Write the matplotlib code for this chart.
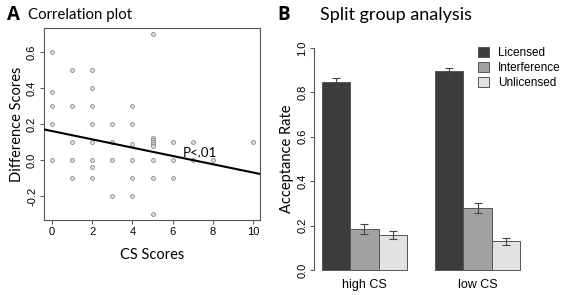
import numpy as np
import matplotlib
matplotlib.use("Agg")
import matplotlib.pyplot as plt

# panel A: CS scores vs difference scores
cs_scores = [0, 0, 0, 0, 0,
             1, 1, 1, 1, 1,
             2, 2, 2, 2, 2, 2, 2, 2,
             3, 3, 3, 3,
             4, 4, 4, 4, 4, 4,
             5, 5, 5, 5, 5, 5, 5, 5, 5,
             6, 6, 6,
             7, 7,
             8,
             10]
diff_scores = [0.6, 0.38, 0.3, 0.2, 0.0,
               0.5, 0.3, 0.1, 0.0, -0.1,
               0.5, 0.4, 0.3, 0.2, 0.1, 0.0, -0.04, -0.1,
               0.2, 0.1, 0.0, -0.2,
               0.3, 0.2, 0.09, 0.0, -0.1, -0.2,
               0.7, 0.12, 0.11, 0.1, 0.09, 0.08, 0.0, -0.1, -0.3,
               0.1, 0.0, -0.1,
               0.1, 0.0,
               0.0,
               0.1]
fit_intercept = 0.161
fit_slope = -0.023

# panel B: split group analysis
groups = ["high CS", "low CS"]
conditions = ["Licensed", "Interference", "Unlicensed"]
rates = {"Licensed": [0.845, 0.895],
         "Interference": [0.184, 0.279],
         "Unlicensed": [0.158, 0.129]}
errors = {"Licensed": [0.02, 0.015],
          "Interference": [0.022, 0.024],
          "Unlicensed": [0.019, 0.017]}
colors = {"Licensed": "#3c3c3c", "Interference": "#a2a2a2", "Unlicensed": "#e1e3e3"}

label_font = "Lato"
tick_font = "Liberation Sans"

fig = plt.figure(figsize=(5.67, 2.95), dpi=100)

# ---- A ----
ax1 = fig.add_axes([0.0776, 0.254, 0.381, 0.651])
ax1.plot(cs_scores, diff_scores, "o", ms=2.8, mfc="#e0e0e0", mec="#858585", mew=0.6, zorder=2)
xl = np.array([-0.4, 10.35])
ax1.plot(xl, fit_intercept + fit_slope * xl, color="black", lw=1.5, zorder=3)
ax1.text(6.5, 0.04, "P<.01", fontsize=9.5, family=label_font, va="center", ha="left")
ax1.set_xlim(-0.4, 10.35)
ax1.set_ylim(-0.333, 0.733)
ax1.set_xticks([0, 2, 4, 6, 8, 10])
ax1.set_yticks([-0.2, 0.0, 0.2, 0.4, 0.6])
ax1.set_yticklabels(["-0.2", "0.0", "0.2", "0.4", "0.6"], rotation=90, va="center")
for s in ax1.spines.values():
    s.set_color("#555555")
    s.set_linewidth(0.8)
ax1.tick_params(direction="out", length=3, width=0.7, color="#555555", labelsize=8, pad=2)
for lab in ax1.get_xticklabels() + ax1.get_yticklabels():
    lab.set_family(tick_font)
ax1.set_xlabel("CS Scores", fontsize=10.5, family=label_font, labelpad=8)
ax1.set_ylabel("Difference Scores", fontsize=10.5, family=label_font, labelpad=2)

fig.text(0.012, 0.95, "A", fontsize=13.5, fontweight="bold", family="Open Sans", va="center")
fig.text(0.05, 0.95, "Correlation plot", fontsize=10.8, family=label_font, va="center")

# ---- B ----
ax2 = fig.add_axes([0.554, 0.054, 0.377, 0.814])
x0 = np.array([1.5, 5.5])
for i, c in enumerate(conditions):
    ax2.bar(x0 + i, rates[c], width=1.0, color=colors[c], edgecolor="#555555", linewidth=0.7,
            yerr=errors[c], capsize=3, error_kw=dict(ecolor="#444444", elinewidth=0.8, capthick=0.8),
            label=c)
ax2.set_xlim(0.72, 8.28)
ax2.set_ylim(-0.04, 1.04)
ax2.set_xticks(x0 + 1)
ax2.set_xticklabels(groups)
ax2.tick_params(axis="x", length=0, labelsize=9, pad=0)
ax2.set_yticks([0.0, 0.2, 0.4, 0.6, 0.8, 1.0])
ax2.set_yticklabels(["0.0", "0.2", "0.4", "0.6", "0.8", "1.0"], rotation=90, va="center")
ax2.tick_params(axis="y", direction="out", length=3, width=0.7, color="#555555", labelsize=8, pad=2)
for lab in ax2.get_xticklabels() + ax2.get_yticklabels():
    lab.set_family(tick_font)
for side in ["top", "right", "bottom"]:
    ax2.spines[side].set_visible(False)
ax2.spines["left"].set_bounds(0, 1.0)
ax2.spines["left"].set_color("#555555")
ax2.spines["left"].set_linewidth(0.8)
ax2.set_ylabel("Acceptance Rate", fontsize=10.5, family=label_font, labelpad=2)
ax2.legend(loc="upper left", bbox_to_anchor=(0.74, 0.99), frameon=False,
           prop={"family": tick_font, "size": 8.5}, handlelength=0.9, handleheight=0.9,
           handletextpad=0.8, labelspacing=0.25, borderpad=0)

fig.text(0.49, 0.95, "B", fontsize=13.5, fontweight="bold", family="Open Sans", va="center")
fig.text(0.565, 0.95, "Split group analysis", fontsize=13, family=label_font, va="center")

fig.savefig("out.png", dpi=100)
